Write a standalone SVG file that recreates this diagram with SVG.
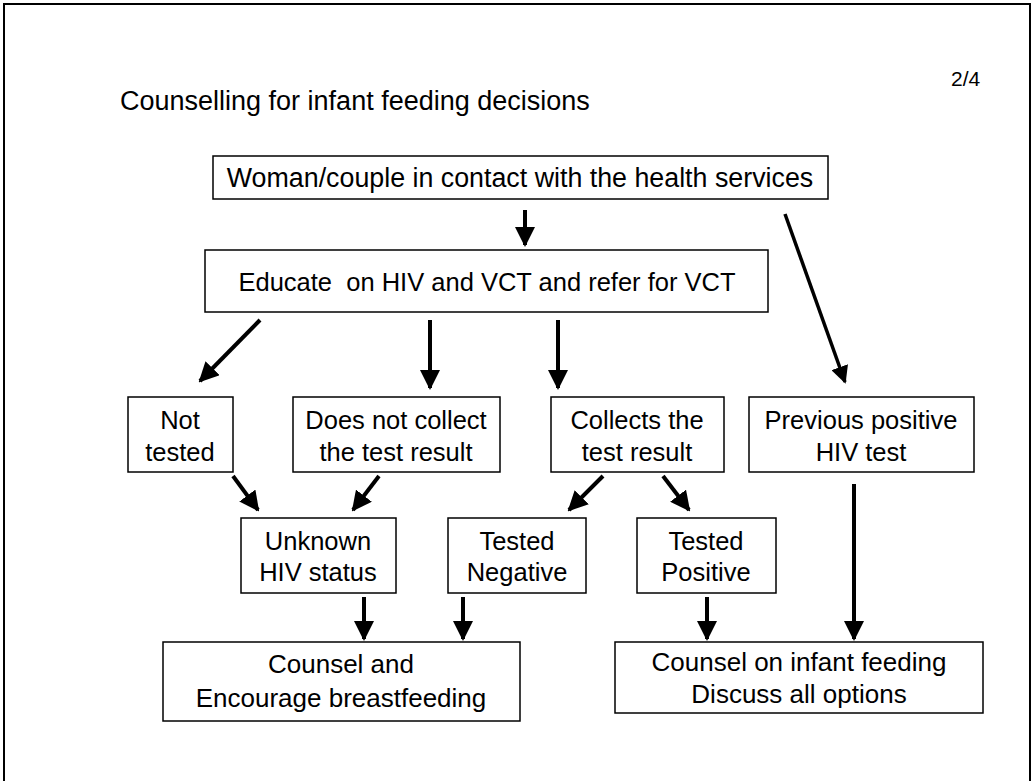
<svg xmlns="http://www.w3.org/2000/svg" width="1033" height="781" viewBox="0 0 1033 781">
<defs>
<marker id="ah" viewBox="0 0 10 10" refX="9" refY="5" markerWidth="5" markerHeight="5" markerUnits="strokeWidth" orient="auto">
<path d="M0,0 L10,5 L0,10 Z" fill="#000"/>
</marker>
<style>
.box{fill:#fff;stroke:#000;stroke-width:1.5}
.t{font-family:"Liberation Sans",Arial,sans-serif;font-size:25.5px;fill:#000;text-anchor:middle}
.b{font-size:26px}
.c{stroke:#000;stroke-width:4;fill:none;marker-end:url(#ah)}
</style>
</defs>
<rect width="1033" height="781" fill="#fff"/>
<rect x="4" y="4" width="1026" height="800" fill="none" stroke="#000" stroke-width="2"/>
<text x="120" y="110" style="font-family:'Liberation Sans',Arial,sans-serif;font-size:27px">Counselling for infant feeding decisions</text>
<text x="951" y="86" style="font-family:'Liberation Sans',Arial,sans-serif;font-size:21px">2/4</text>

<g id="connectors">
<line class="c" x1="525" y1="210" x2="525" y2="245"/>
<line class="c" x1="785" y1="214" x2="845" y2="382" style="stroke-width:3.5"/>
<line class="c" x1="260" y1="320" x2="200" y2="381"/>
<line class="c" x1="430" y1="320" x2="430" y2="388"/>
<line class="c" x1="558" y1="320" x2="558" y2="388"/>
<line class="c" x1="233" y1="476" x2="258" y2="510"/>
<line class="c" x1="379" y1="476" x2="353" y2="510"/>
<line class="c" x1="603" y1="476" x2="569" y2="510"/>
<line class="c" x1="663" y1="476" x2="689" y2="510"/>
<line class="c" x1="364" y1="597" x2="364" y2="639"/>
<line class="c" x1="463" y1="597" x2="463" y2="639"/>
<line class="c" x1="707" y1="597" x2="707" y2="639"/>
<line class="c" x1="854" y1="484" x2="854" y2="639"/>
</g>

<g id="n-woman"><rect class="box" x="213" y="156" width="615" height="43"/><text class="t" x="520" y="187" style="font-size:26.8px">Woman/couple in contact with the health services</text></g>
<g id="n-educate"><rect class="box" x="205" y="250" width="563" height="62"/><text class="t" x="487" y="291" xml:space="preserve">Educate  on HIV and VCT and refer for VCT</text></g>
<g id="n-nottested"><rect class="box" x="128" y="397" width="105" height="75"/><text class="t" x="180" y="429">Not</text><text class="t" x="180" y="461">tested</text></g>
<g id="n-notcollect"><rect class="box" x="293" y="397" width="207" height="75"/><text class="t" x="396" y="429">Does not collect</text><text class="t" x="396" y="461">the test result</text></g>
<g id="n-collects"><rect class="box" x="551" y="397" width="173" height="75"/><text class="t" x="637" y="429">Collects the</text><text class="t" x="637" y="461">test result</text></g>
<g id="n-previous"><rect class="box" x="749" y="397" width="225" height="75"/><text class="t" x="861" y="429">Previous positive</text><text class="t" x="861" y="461">HIV test</text></g>
<g id="n-unknown"><rect class="box" x="241" y="518" width="155" height="75"/><text class="t" x="318" y="550">Unknown</text><text class="t" x="318" y="581">HIV status</text></g>
<g id="n-negative"><rect class="box" x="448" y="518" width="138" height="75"/><text class="t" x="517" y="550">Tested</text><text class="t" x="517" y="581">Negative</text></g>
<g id="n-positive"><rect class="box" x="637" y="518" width="139" height="75"/><text class="t" x="706" y="550">Tested</text><text class="t" x="706" y="581">Positive</text></g>
<g id="n-breastfeed"><rect class="box" x="163" y="642" width="357" height="79"/><text class="t b" x="341" y="673">Counsel and</text><text class="t b" x="341" y="707">Encourage breastfeeding</text></g>
<g id="n-options"><rect class="box" x="615" y="642" width="368" height="71"/><text class="t b" x="799" y="671">Counsel on infant feeding</text><text class="t b" x="799" y="703">Discuss all options</text></g>
</svg>
